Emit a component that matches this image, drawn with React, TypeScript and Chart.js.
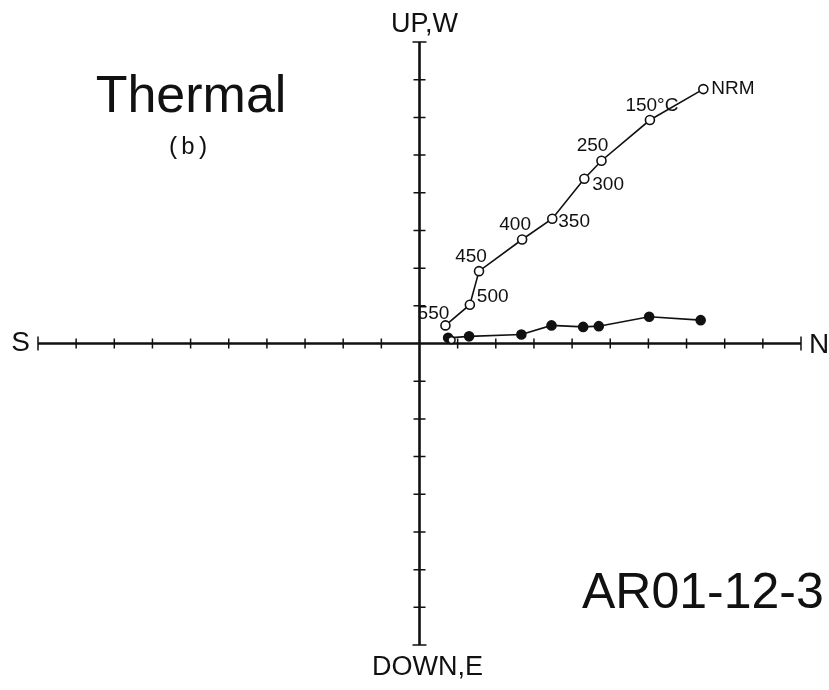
import React, { useEffect, useRef } from "react";
import { Chart, registerables } from "chart.js";

Chart.register(...registerables);

// Demagnetisation steps
const stepLabels = ["NRM", "150°C", "250", "300", "350", "400", "450", "500", "550"];

// Vertical projection (open circles): N component vs Up component
const vertN = [7.44, 6.04, 4.77, 4.32, 3.48, 2.69, 1.56, 1.32, 0.68];
const vertUp = [6.75, 5.93, 4.85, 4.37, 3.31, 2.76, 1.92, 1.03, 0.48];

// Horizontal projection (filled circles): N component vs W component
const horN = [7.37, 6.02, 4.70, 4.29, 3.46, 2.67, 1.30, 0.75, 0.84];
const horW = [0.62, 0.71, 0.46, 0.44, 0.48, 0.24, 0.19, 0.15, 0.09];

// Axis extent in tick units
const xTicks = [-10, -9, -8, -7, -6, -5, -4, -3, -2, -1, 1, 2, 3, 4, 5, 6, 7, 8, 9, 10];
const yTicks = [-8, -7, -6, -5, -4, -3, -2, -1, 1, 2, 3, 4, 5, 6, 7, 8];

// label placement (pixel offsets from point, alignment)
const labelOffsets: [number, number, CanvasTextAlign][] = [
  [8, 0, "left"],
  [2, -14, "center"],
  [-9, -15, "center"],
  [8, 6, "left"],
  [6, 3, "left"],
  [-7, -15, "center"],
  [-8, -14, "center"],
  [7, -8, "left"],
  [-12, -12, "center"],
];

const FONT = "'Liberation Sans', Arial, sans-serif";

const zijderveldPlugin = {
  id: "zijderveld",
  beforeDatasetsDraw(chart: any) {
    const ctx = chart.ctx;
    const xs = chart.scales.x;
    const ys = chart.scales.y;
    const x0 = xs.getPixelForValue(0);
    const y0 = ys.getPixelForValue(0);
    const xl = xs.getPixelForValue(-10);
    const xr = xs.getPixelForValue(10);
    const yt = ys.getPixelForValue(8);
    const yb = ys.getPixelForValue(-8);
    ctx.save();
    ctx.strokeStyle = "#111";
    ctx.lineWidth = 2.6;
    ctx.beginPath();
    ctx.moveTo(xl, y0);
    ctx.lineTo(xr, y0);
    ctx.moveTo(x0, yt);
    ctx.lineTo(x0, yb);
    ctx.stroke();
    ctx.lineWidth = 1.5;
    ctx.beginPath();
    for (const t of xTicks) {
      const px = xs.getPixelForValue(t);
      const h = Math.abs(t) === 10 ? 7 : 5;
      ctx.moveTo(px, y0 - h);
      ctx.lineTo(px, y0 + h);
    }
    for (const t of yTicks) {
      const py = ys.getPixelForValue(t);
      const h = Math.abs(t) === 8 ? 7 : 6;
      ctx.moveTo(x0 - h, py);
      ctx.lineTo(x0 + h, py);
    }
    ctx.stroke();
    ctx.restore();
  },
  afterDraw(chart: any) {
    const ctx = chart.ctx;
    const xs = chart.scales.x;
    const ys = chart.scales.y;
    const x0 = xs.getPixelForValue(0);
    const y0 = ys.getPixelForValue(0);
    const xl = xs.getPixelForValue(-10);
    const xr = xs.getPixelForValue(10);
    const yt = ys.getPixelForValue(8);
    const yb = ys.getPixelForValue(-8);
    ctx.save();
    ctx.fillStyle = "#111";
    // axis labels
    ctx.font = `28px ${FONT}`;
    ctx.textBaseline = "middle";
    ctx.textAlign = "right";
    ctx.fillText("S", xl - 8, y0);
    ctx.textAlign = "left";
    ctx.fillText("N", xr + 8, y0 + 2);
    ctx.textAlign = "center";
    ctx.textBaseline = "alphabetic";
    ctx.font = `27px ${FONT}`;
    ctx.fillText("UP,W", x0 + 5, yt - 10);
    ctx.fillText("DOWN,E", x0 + 8, yb + 30);

    // step labels
    ctx.font = `19px ${FONT}`;
    ctx.textBaseline = "middle";
    stepLabels.forEach((lab, i) => {
      const px = xs.getPixelForValue(vertN[i]);
      const py = ys.getPixelForValue(vertUp[i]);
      const [dx, dy, al] = labelOffsets[i];
      ctx.textAlign = al;
      ctx.fillText(lab, px + dx, py + dy);
    });

    // titles
    ctx.textBaseline = "alphabetic";
    ctx.textAlign = "center";
    ctx.font = `52px ${FONT}`;
    ctx.fillText("Thermal", 191, 112);
    ctx.font = `24px 'Liberation Mono', monospace`;
    ctx.fillText("(b)", 188, 154);
    ctx.textAlign = "left";
    ctx.font = `50px ${FONT}`;
    ctx.fillText("AR01-12-3", 582, 608);
    ctx.restore();
  },
};

export default function App() {
  const ref = useRef<HTMLCanvasElement>(null);
  useEffect(() => {
    if (!ref.current) return;
    const chart = new Chart(ref.current, {
      type: "scatter",
      data: {
        datasets: [
          {
            label: "Vertical",
            data: vertN.map((n, i) => ({ x: n, y: vertUp[i] })),
            showLine: true,
            borderColor: "#111",
            borderWidth: 1.6,
            pointRadius: 4.5,
            pointBorderWidth: 1.6,
            pointBackgroundColor: "#fff",
            pointBorderColor: "#111",
          },
          {
            label: "Horizontal",
            data: horN.map((n, i) => ({ x: n, y: horW[i] })),
            showLine: true,
            borderColor: "#111",
            borderWidth: 1.6,
            pointRadius: horN.map((_, i) => (i === horN.length - 1 ? 3.5 : 4.5)),
            pointBorderWidth: 1.6,
            pointBackgroundColor: horN.map((_, i) => (i === horN.length - 1 ? "#fff" : "#111")),
            pointBorderColor: "#111",
          },
        ],
      },
      options: {
        responsive: false,
        animation: false,
        devicePixelRatio: 1,
        layout: { padding: { left: 38, right: 28, top: 42, bottom: 45 } },
        scales: {
          x: { type: "linear", min: -10, max: 10, display: false },
          y: { type: "linear", min: -8, max: 8, display: false },
        },
        plugins: { legend: { display: false }, tooltip: { enabled: false } },
      },
      plugins: [zijderveldPlugin],
    });
    return () => chart.destroy();
  }, []);
  return (
    <div style={{ position: "absolute", left: 0, top: 0, width: 829, height: 690, background: "#fff" }}>
      <canvas ref={ref} width={829} height={690} style={{ display: "block" }} />
    </div>
  );
}
